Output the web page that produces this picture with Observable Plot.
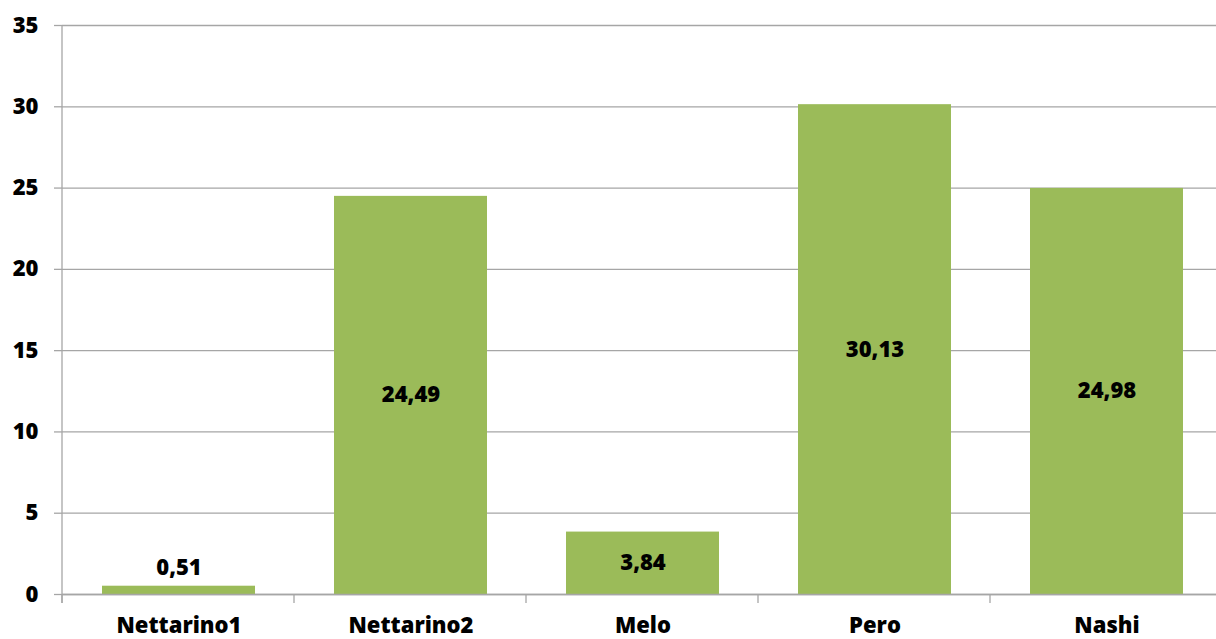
<!DOCTYPE html>
<html>
<head>
<meta charset="utf-8">
<script src="https://cdn.jsdelivr.net/npm/d3@7"></script>
<script src="https://cdn.jsdelivr.net/npm/@observablehq/plot@0.6"></script>
<style>
  html, body { margin: 0; padding: 0; background: #fff; }
  #chart svg { display: block; }
</style>
</head>
<body>
<div id="chart"></div>
<script>
// Valori per varietà
const categories = ["Nettarino1", "Nettarino2", "Melo", "Pero", "Nashi"];
const values = [0.51, 24.49, 3.84, 30.13, 24.98];
const yTicks = [0, 5, 10, 15, 20, 25, 30, 35];

const data = categories.map((c, i) => ({ name: c, value: values[i] }));
const fmt = v => v.toFixed(2).replace(".", ",");
const small = d => d.value < 2;

const font = "'Open Sans', 'DejaVu Sans', sans-serif";
const grid = "#a6a6a6";
const fs = 22;
const fw = 800;

const chart = Plot.plot({
  width: 1216,
  height: 639,
  marginLeft: 62,
  marginRight: 0,
  marginTop: 25,
  marginBottom: 45,
  style: { fontFamily: font, fontSize: fs + "px", fontWeight: fw, color: "#000", background: "#fff" },
  x: { domain: categories, range: [62, 1223], paddingInner: 0.341, paddingOuter: 0.17, axis: null, label: null },
  y: { domain: [0, 35], label: null },
  marks: [
    Plot.gridY(yTicks, { stroke: grid, strokeOpacity: 1, strokeWidth: 1.3 }),
    Plot.barY(data, { x: "name", y: "value", fill: "#9bbb59" }),
    Plot.axisY(yTicks, { tickSize: 8, tickPadding: 16, stroke: grid, strokeWidth: 1.3, fill: "#000", fontWeight: fw, fontSize: fs }),
    // etichette delle categorie sotto la base
    Plot.text(data, { x: "name", y: 0, dy: 31, text: "name", fill: "#000", fontWeight: fw, fontSize: fs, lineAnchor: "middle" }),
    // etichette dei valori
    Plot.text(data.filter(d => !small(d)), { x: "name", y: d => d.value / 2, text: d => fmt(d.value), fill: "#000", fontWeight: fw, fontSize: fs }),
    Plot.text(data.filter(small), { x: "name", y: "value", dy: -18, text: d => fmt(d.value), fill: "#000", fontWeight: fw, fontSize: fs }),
    Plot.ruleY([0], { stroke: grid, strokeWidth: 1.3 })
  ]
});

const svg = d3.select(chart);
const xs = chart.scale("x");
const ys = chart.scale("y");
const y0 = ys.apply(0);
const yTop = ys.apply(35);
const left = xs.range[0];

// asse verticale
svg.append("line")
  .attr("x1", left).attr("x2", left)
  .attr("y1", yTop).attr("y2", y0 + 9)
  .attr("stroke", grid).attr("stroke-width", 1.3);

// tacche sull'asse delle categorie, ai confini tra le bande
const bounds = d3.range(categories.length + 1).map(i => left + i * xs.step);
svg.append("g")
  .selectAll("line")
  .data(bounds)
  .join("line")
  .attr("x1", d => d).attr("x2", d => d)
  .attr("y1", y0).attr("y2", y0 + 9)
  .attr("stroke", grid).attr("stroke-width", 1.3);

document.getElementById("chart").appendChild(chart);
</script>
</body>
</html>
